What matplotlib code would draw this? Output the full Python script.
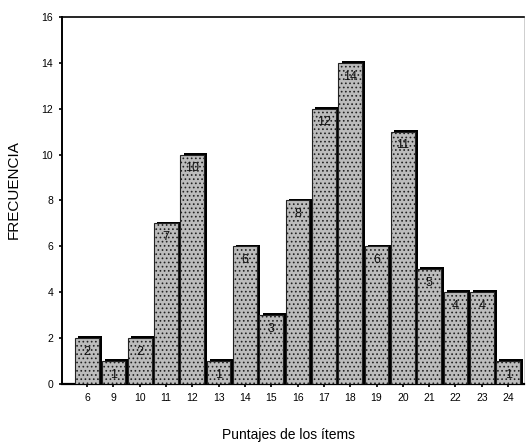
"""
Histograma de frecuencias de puntajes de los ítems.
"""
import numpy as np
import matplotlib
matplotlib.use("Agg")
import matplotlib.pyplot as plt

puntajes = ["6", "9", "10", "11", "12", "13", "14", "15", "16",
            "17", "18", "19", "20", "21", "22", "23", "24"]
frecuencias = [2, 1, 2, 7, 10, 1, 6, 3, 8, 12, 14, 6, 11, 5, 4, 4, 1]
yticks = [0, 2, 4, 6, 8, 10, 12, 14, 16]

plt.rcParams['font.family'] = ['Liberation Sans', 'DejaVu Sans']
plt.rcParams['hatch.color'] = '#555555'
plt.rcParams['hatch.linewidth'] = 0.7

fig = plt.figure(figsize=(5.26, 4.47), dpi=100)
ax = fig.add_axes([0.118, 0.141, 0.878, 0.821])

x = np.arange(len(puntajes))
width = 0.9
# sombra negra desplazada
ax.bar(x + 0.12, np.array(frecuencias) + 0.08, width=width,
       color='black', zorder=2)
ax.bar(x, frecuencias, width=width, facecolor='#bcbcbc',
       edgecolor='#222222', linewidth=0.8, hatch='....', zorder=3)

for xi, f in zip(x, frecuencias):
    ax.text(xi, f - 0.6, str(f), ha='center', va='center',
            fontsize=9, color='#111111', zorder=4)

ax.set_xlim(-0.95, len(puntajes) - 1 + 0.6)
ax.set_ylim(0, 16)
ax.set_xticks(x)
ax.set_xticklabels(puntajes, fontsize=7.5)
ax.set_yticks(yticks)
ax.set_yticklabels([str(t) for t in yticks], fontsize=7.5)
ax.tick_params(axis='both', length=2.5, width=1.2, direction='out', pad=4)

ax.spines['left'].set_linewidth(1.4)
ax.spines['bottom'].set_linewidth(1.6)
ax.spines['top'].set_linewidth(1.2)
ax.spines['right'].set_linewidth(0.4)
ax.spines['right'].set_color('#aaaaaa')

ax.set_ylabel("FRECUENCIA", fontsize=11)
ax.yaxis.set_label_coords(-0.089, 0.53)
ax.set_xlabel("Puntajes de los ítems", fontsize=10)
ax.xaxis.set_label_coords(0.49, -0.12)

fig.savefig("out.png", dpi=100)
